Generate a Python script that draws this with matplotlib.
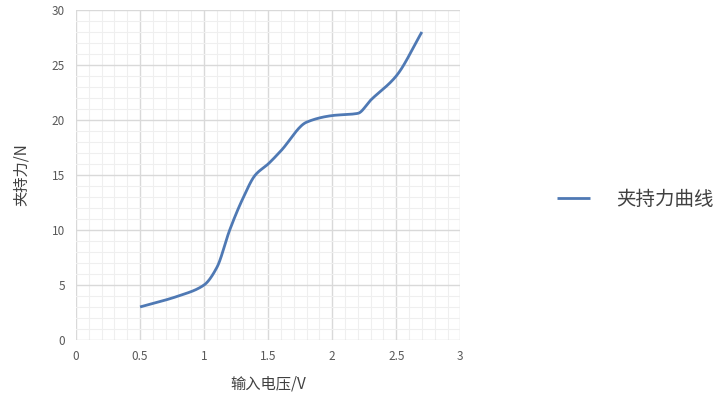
import numpy as np
import matplotlib
matplotlib.use("Agg")
import matplotlib.pyplot as plt
from matplotlib.ticker import MultipleLocator

plt.rcParams['font.family'] = ['Noto Sans CJK SC', 'DejaVu Sans']

voltage = [0.5, 0.8, 1.0, 1.1, 1.2, 1.3, 1.4, 1.5, 1.6, 1.8, 2.0, 2.2, 2.3, 2.5, 2.7]
force = [3.0, 4.0, 5.0, 6.6, 10.0, 12.8, 15.0, 16.0, 17.2, 19.8, 20.4, 20.6, 21.8, 24.0, 28.0]


def smooth(xs, ys, n=30):
    # cubic hermite through the points, monotone (fritsch-carlson) slopes
    xs = np.asarray(xs, float)
    ys = np.asarray(ys, float)
    h = np.diff(xs)
    d = np.diff(ys) / h
    m = np.zeros_like(ys)
    m[0], m[-1] = d[0], d[-1]
    for k in range(1, len(xs) - 1):
        if d[k - 1] * d[k] > 0:
            w1 = 2 * h[k] + h[k - 1]
            w2 = h[k] + 2 * h[k - 1]
            m[k] = (w1 + w2) / (w1 / d[k - 1] + w2 / d[k])
    outx, outy = [], []
    t = np.linspace(0, 1, n)
    for i in range(len(xs) - 1):
        h00 = 2 * t ** 3 - 3 * t ** 2 + 1
        h10 = t ** 3 - 2 * t ** 2 + t
        h01 = -2 * t ** 3 + 3 * t ** 2
        h11 = t ** 3 - t ** 2
        outx.extend(xs[i] + t * h[i])
        outy.extend(h00 * ys[i] + h10 * h[i] * m[i] + h01 * ys[i + 1] + h11 * h[i] * m[i + 1])
    return outx, outy


fig = plt.figure(figsize=(7.17, 3.99), dpi=100)
ax = fig.add_axes([0.106, 0.148, 0.536, 0.827])

sx, sy = smooth(voltage, force)
ax.plot(sx, sy, color='#4f79b4', lw=2, label='夹持力曲线', solid_capstyle='butt')

ax.set_xlim(0, 3)
ax.set_ylim(0, 30)
ax.xaxis.set_major_locator(MultipleLocator(0.5))
ax.xaxis.set_minor_locator(MultipleLocator(0.1))
ax.yaxis.set_major_locator(MultipleLocator(5))
ax.yaxis.set_minor_locator(MultipleLocator(1))
ax.set_xticks([0, 0.5, 1, 1.5, 2, 2.5, 3])
ax.set_xticklabels(['0', '0.5', '1', '1.5', '2', '2.5', '3'])
ax.grid(which='major', color='#d9d9d9', lw=1)
ax.grid(which='minor', color='#efefef', lw=0.8)
ax.set_axisbelow(True)
for s in ax.spines.values():
    s.set_visible(False)
ax.tick_params(which='both', length=0, colors='#595959', labelsize=8.5)
ax.tick_params(axis='x', pad=7)
ax.tick_params(axis='y', pad=8)

ax.set_xlabel('输入电压/V', fontsize=11, color='#404040', labelpad=9)
ax.set_ylabel('夹持力/N', fontsize=11, color='#404040', labelpad=16)

fig.legend(loc='center left', bbox_to_anchor=(0.753, 0.5), frameon=False,
           fontsize=14, handlelength=1.7, handletextpad=1.3, labelcolor='#404040')

fig.savefig('out.png', dpi=100)
